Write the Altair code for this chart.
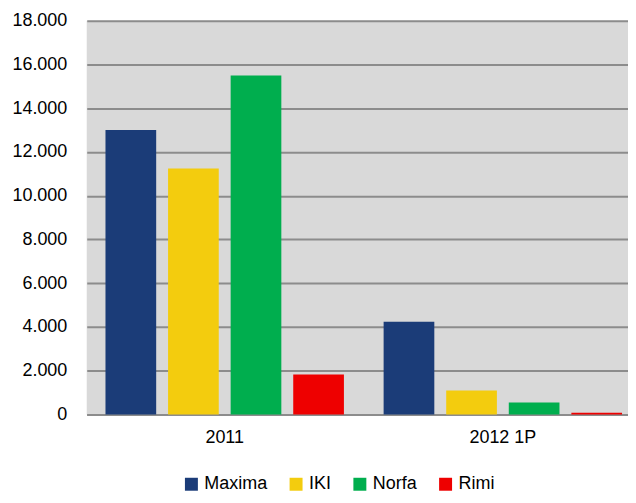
import altair as alt
import pandas as pd

periods = ["2011", "2012 1P"]
chains = ["Maxima", "IKI", "Norfa", "Rimi"]
colors = ["#1B3C78", "#F3CC0E", "#00AE4E", "#EE0000"]
values_2011 = [13000, 11250, 15500, 1830]
values_2012 = [4240, 1100, 550, 80]

rows = []
for c, v in zip(chains, values_2011):
    rows.append({"period": "2011", "chain": c, "value": v})
for c, v in zip(chains, values_2012):
    rows.append({"period": "2012 1P", "chain": c, "value": v})
df = pd.DataFrame(rows)

FONT = "Liberation Sans"

chart = alt.Chart(df).mark_bar().encode(
    x=alt.X("period:N", sort=periods, title=None,
            scale=alt.Scale(paddingInner=0.1, paddingOuter=0.023, align=1),
            axis=alt.Axis(labelAngle=0, ticks=False, domainColor="#8C8C8C",
                          domainWidth=2, labelPadding=14, grid=False)),
    xOffset=alt.XOffset("chain:N", sort=chains,
                        scale=alt.Scale(paddingInner=0.19, paddingOuter=0.095)),
    y=alt.Y("value:Q", title=None,
            scale=alt.Scale(domain=[0, 18000], nice=False),
            axis=alt.Axis(values=list(range(0, 18001, 2000)), ticks=False, domain=False,
                          gridColor="#8C8C8C", gridWidth=2, labelPadding=20,
                          labelExpr="replace(format(datum.value, ','), ',', '.')")),
    color=alt.Color("chain:N", sort=chains,
                    scale=alt.Scale(domain=chains, range=colors),
                    legend=alt.Legend(orient="none", direction="horizontal", title=None,
                                      legendX=96, legendY=456, padding=0,
                                      symbolType="square", symbolSize=169,
                                      symbolStrokeWidth=0, labelOffset=4,
                                      columnPadding=19, labelFontSize=18,
                                      labelFont=FONT, labelColor="#000000")),
).properties(
    width=543, height=395,
    background="#FFFFFF",
    padding={"left": 3, "top": 3, "right": 0, "bottom": 0},
).configure_view(
    fill="#D9D9D9", stroke=None
).configure_axis(
    labelFont=FONT, labelFontSize=18, labelColor="#000000"
)

chart.save("out.html", embed_options={"renderer": "svg", "actions": False})
